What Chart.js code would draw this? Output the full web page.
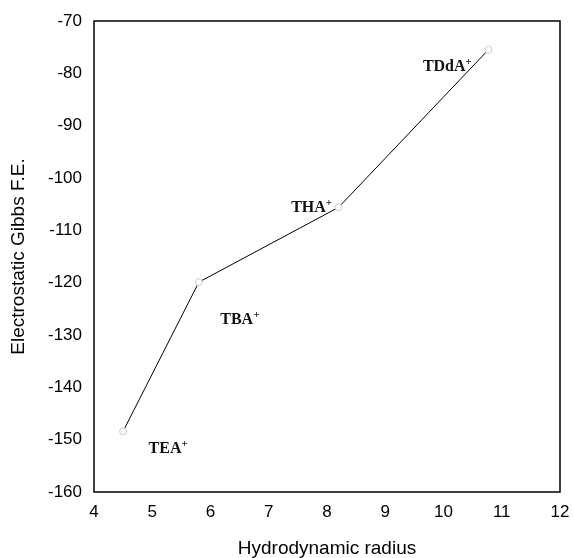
<!DOCTYPE html>
<html>
<head>
<meta charset="utf-8">
<script src="https://cdn.jsdelivr.net/npm/chart.js@4.4.1/dist/chart.umd.min.js"></script>
<style>
  html, body { margin: 0; padding: 0; background: #fff; }
</style>
</head>
<body>
<canvas id="gibbsChart" width="574" height="558"></canvas>
<script>
// data
const ions = ['TEA', 'TBA', 'THA', 'TDdA'];
const radius = [4.5, 5.8, 8.2, 10.77];
const gibbs = [-148.4, -119.9, -105.6, -75.5];
const xTicks = [4, 5, 6, 7, 8, 9, 10, 11, 12];
const yTicks = [-160, -150, -140, -130, -120, -110, -100, -90, -80, -70];

// pixel offsets of the ion labels from their points
const labelOffsets = [[45, 18], [41, 38], [-27, 1], [-41, 17]];

const points = radius.map((r, i) => ({ x: r, y: gibbs[i] }));
const sans = '"Liberation Sans", Arial, sans-serif';

// box round the plot area + ion labels
const boxAndLabels = {
  id: 'boxAndLabels',
  afterDatasetsDraw(chart) {
    const { ctx, chartArea: a } = chart;
    ctx.save();
    ctx.strokeStyle = '#000';
    ctx.lineWidth = 1.5;
    ctx.strokeRect(a.left, a.top, a.right - a.left, a.bottom - a.top);

    const meta = chart.getDatasetMeta(0);
    ctx.fillStyle = '#111';
    ctx.textBaseline = 'middle';
    ctx.textAlign = 'left';
    meta.data.forEach((pt, i) => {
      const name = ions[i];
      ctx.font = 'bold 16px "Liberation Serif", serif';
      const w = ctx.measureText(name).width;
      ctx.font = 'bold 11px "Liberation Serif", serif';
      const wp = ctx.measureText('+').width;
      const cx = pt.x + labelOffsets[i][0];
      const cy = pt.y + labelOffsets[i][1];
      const left = cx - (w + wp) / 2;
      ctx.font = 'bold 16px "Liberation Serif", serif';
      ctx.fillText(name, left, cy);
      ctx.font = 'bold 11px "Liberation Serif", serif';
      ctx.fillText('+', left + w, cy - 5);
    });
    ctx.restore();
  }
};

new Chart(document.getElementById('gibbsChart'), {
  type: 'scatter',
  data: {
    datasets: [{
      data: points,
      showLine: true,
      borderColor: '#000',
      borderWidth: 1,
      tension: 0,
      pointRadius: 3.5,
      pointBackgroundColor: '#fff',
      pointBorderColor: '#ccc',
      pointBorderWidth: 1
    }]
  },
  options: {
    responsive: false,
    animation: false,
    devicePixelRatio: 1,
    layout: { padding: { top: 21, right: 14, left: 0, bottom: 0 } },
    plugins: { legend: { display: false }, tooltip: { enabled: false } },
    scales: {
      x: {
        type: 'linear',
        min: 4, max: 12,
        afterBuildTicks: s => { s.ticks = xTicks.map(v => ({ value: v })); },
        afterFit: s => { s.height = 66; },
        grid: { display: false },
        border: { display: false },
        ticks: {
          color: '#000',
          padding: 2,
          autoSkip: false,
          maxRotation: 0,
          font: { family: sans, size: 17 }
        },
        title: {
          display: true,
          text: 'Hydrodynamic radius',
          color: '#000',
          padding: { top: 0, bottom: 0 },
          font: { family: sans, size: 19, lineHeight: 1 }
        }
      },
      y: {
        type: 'linear',
        min: -160, max: -70,
        afterBuildTicks: s => { s.ticks = yTicks.map(v => ({ value: v })); },
        afterFit: s => { s.width = 94; },
        grid: { display: false },
        border: { display: false },
        ticks: {
          color: '#000',
          padding: 4,
          autoSkip: false,
          font: { family: sans, size: 17 }
        },
        title: {
          display: true,
          text: 'Electrostatic Gibbs F.E.',
          color: '#000',
          padding: { top: 9, bottom: 9 },
          font: { family: sans, size: 19, lineHeight: 1 }
        }
      }
    }
  },
  plugins: [boxAndLabels]
});
</script>
</body>
</html>
